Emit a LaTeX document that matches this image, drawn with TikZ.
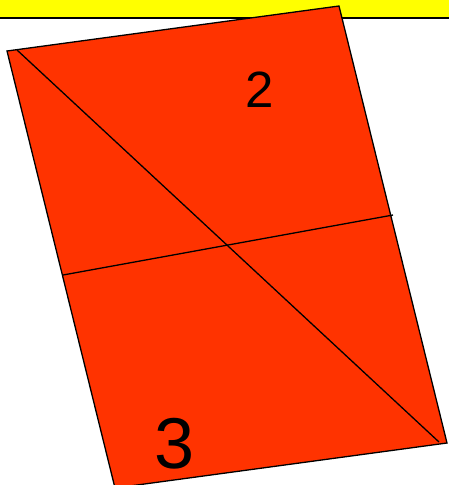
\documentclass[tikz,border=0pt]{standalone}
\usepackage{fontspec}
\setmainfont{Liberation Sans}
\definecolor{PanelRed}{HTML}{FF3300}
\definecolor{BandYellow}{HTML}{FFFF00}
\usetikzlibrary{calc}

\begin{document}
\begin{tikzpicture}[x=1pt,y=-1pt,line join=miter]
  \useasboundingbox (0,0) rectangle (449,485);
  \clip (0,0) rectangle (449,485);
  \fill[BandYellow] (0,0) rectangle (449,18);
  \draw[line width=2pt] (0,18) -- (449,18);
  % parallelogram corners
  \coordinate (tl) at (7,51);
  \coordinate (tr) at (339,6);
  \coordinate (br) at (447,443);
  \coordinate (bl) at (115,488);
  \filldraw[fill=PanelRed,line width=1.3pt] (tl) -- (tr) -- (br) -- (bl) -- cycle;
  \coordinate (dstart) at (17,50);
  \coordinate (dend) at (439,442);
  \draw[line width=1.3pt] (dstart) -- (dend);
  \coordinate (mleft) at (63,275);
  \coordinate (mright) at (393,215);
  \draw[line width=1.3pt] (mleft) -- (mright);
  \node (two) at (260,90) {\fontsize{51}{60}\selectfont 2};
  \node (three) at (175,444) {\fontsize{72}{80}\selectfont 3};
\end{tikzpicture}
\end{document}
